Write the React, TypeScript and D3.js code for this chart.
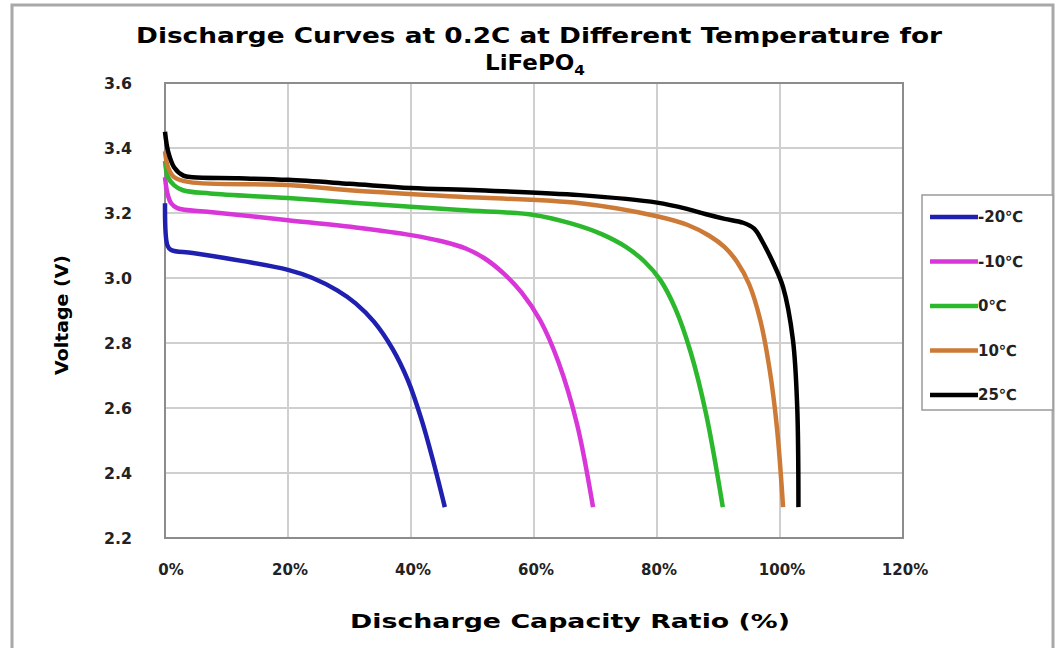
import React from 'react';
import * as d3 from 'd3';

const title1 = 'Discharge Curves at 0.2C at Different Temperature for';
const yTicks = [2.2, 2.4, 2.6, 2.8, 3.0, 3.2, 3.4, 3.6];
const xTicks = [0, 20, 40, 60, 80, 100, 120];

// capacity ratio (%) and voltage (V)
const m20X = [0, 0.4, 1, 4.5, 12.7, 20, 24, 28, 31, 34, 37, 39.5, 41.7, 43.7, 45.5];
const m20V = [3.23, 3.1, 3.086, 3.077, 3.052, 3.025, 3.0, 2.962, 2.922, 2.865, 2.782, 2.685, 2.565, 2.43, 2.295];

const m10X = [0, 0.4, 1, 2, 7.3, 20, 31.7, 40, 45, 49, 52, 55, 58, 61, 64, 67, 69.6];
const m10V = [3.31, 3.26, 3.23, 3.215, 3.203, 3.178, 3.154, 3.132, 3.113, 3.09, 3.06, 3.015, 2.955, 2.87, 2.74, 2.55, 2.295];

const t0X = [0, 0.5, 1.5, 2.9, 7.3, 20, 31.7, 48, 60, 66, 71, 75, 78, 80.5, 83, 85.5, 88, 90.7];
const t0V = [3.36, 3.31, 3.285, 3.27, 3.26, 3.246, 3.23, 3.209, 3.194, 3.168, 3.135, 3.095, 3.05, 2.995, 2.905, 2.77, 2.58, 2.295];

const t10X = [0, 0.5, 1.5, 4, 20, 30, 48, 67.5, 80, 85, 88.5, 91, 93, 95, 96.8, 98.3, 99.5, 100.5];
const t10V = [3.39, 3.34, 3.31, 3.295, 3.286, 3.27, 3.25, 3.23, 3.19, 3.163, 3.13, 3.095, 3.05, 2.98, 2.87, 2.72, 2.54, 2.295];

const t25X = [0, 0.5, 1.5, 3, 4.5, 12, 20, 30, 40, 51, 67.5, 80, 85, 88, 91, 94, 95.8, 97.2, 98.9, 100.5, 102.1, 102.8, 103];
const t25V = [3.45, 3.39, 3.34, 3.315, 3.31, 3.307, 3.302, 3.29, 3.277, 3.27, 3.255, 3.232, 3.212, 3.196, 3.182, 3.17, 3.152, 3.11, 3.046, 2.972, 2.81, 2.603, 2.295];

const series = [
  { label: '-20\u2103', color: '#1f1fb0', x: m20X, v: m20V },
  { label: '-10\u2103', color: '#d836d8', x: m10X, v: m10V },
  { label: '0\u2103', color: '#2cb82c', x: t0X, v: t0V },
  { label: '10\u2103', color: '#cc7a36', x: t10X, v: t10V },
  { label: '25\u2103', color: '#000000', x: t25X, v: t25V },
];

const W = 1057;
const H = 648;
const plot = { left: 165, right: 903, top: 83, bottom: 538 };
const font = '"DejaVu Sans", "Liberation Sans", Arial, sans-serif';

export default function App() {
  const x = d3.scaleLinear().domain([0, 120]).range([plot.left, plot.right]);
  const y = d3.scaleLinear().domain([2.2, 3.6]).range([plot.bottom, plot.top]);

  const line = d3.line<[number, number]>()
    .x(d => x(d[0]))
    .y(d => y(d[1]))
    .curve(d3.curveCatmullRom.alpha(0.5));

  return (
    <svg width={W} height={H} style={{ position: 'absolute', left: 0, top: 0, background: '#fff' }}
      fontFamily={font} fontWeight="bold">
      <rect x={12} y={5} width={1041} height={700} fill="#fff" stroke="#a8a8a8" strokeWidth={3} />

      <text x={539} y={43} textAnchor="middle" fontSize={21} textLength={806} lengthAdjust="spacingAndGlyphs">{title1}</text>
      <text x={535} y={70} textAnchor="middle" fontSize={21} textLength={100} lengthAdjust="spacingAndGlyphs">
        LiFePO<tspan fontSize={14} dy={5}>4</tspan>
      </text>

      {yTicks.map(t => (
        <line key={'gy' + t} x1={plot.left} x2={plot.right} y1={y(t)} y2={y(t)} stroke="#cfcfcf" strokeWidth={2} />
      ))}
      {xTicks.map(t => (
        <line key={'gx' + t} x1={x(t)} x2={x(t)} y1={plot.top} y2={plot.bottom} stroke="#cfcfcf" strokeWidth={2} />
      ))}
      <rect x={plot.left} y={plot.top} width={plot.right - plot.left} height={plot.bottom - plot.top}
        fill="none" stroke="#8c8c8c" strokeWidth={2} />

      {yTicks.map(t => (
        <text key={'ty' + t} x={132} y={y(t) + 6} textAnchor="end" fontSize={15} fill="#222"
          textLength={28} lengthAdjust="spacingAndGlyphs">{t.toFixed(1)}</text>
      ))}
      {xTicks.map(t => (
        <text key={'tx' + t} x={x(t) + (t === 0 ? 6 : 2)} y={575} textAnchor="middle" fontSize={15} fill="#222">{t + '%'}</text>
      ))}

      {series.map(s => (
        <path key={s.label} d={line(s.x.map((d, i) => [d, s.v[i]] as [number, number])) || ''}
          fill="none" stroke={s.color} strokeWidth={4.5} strokeLinejoin="round" strokeLinecap="butt" />
      ))}

      <text transform="translate(68,315) rotate(-90)" textAnchor="middle" fontSize={18}
        textLength={120} lengthAdjust="spacingAndGlyphs">Voltage (V)</text>
      <text x={570} y={628} textAnchor="middle" fontSize={20}
        textLength={440} lengthAdjust="spacingAndGlyphs">Discharge Capacity Ratio (%)</text>

      <rect x={922} y={195} width={131} height={215} fill="#fff" stroke="#9a9a9a" strokeWidth={1.5} />
      {series.map((s, i) => {
        const ly = 217 + i * 44.5;
        return (
          <g key={'lg' + s.label}>
            <line x1={930} x2={978} y1={ly} y2={ly} stroke={s.color} strokeWidth={4.5} />
            <text x={978} y={ly + 5} fontSize={15} fill="#222">{s.label}</text>
          </g>
        );
      })}
    </svg>
  );
}
